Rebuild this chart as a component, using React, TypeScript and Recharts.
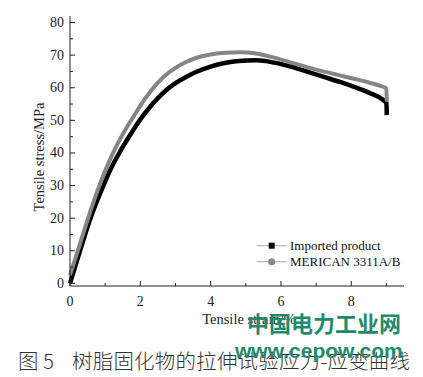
import React from 'react';
import { LineChart, Line, XAxis, YAxis, Legend } from 'recharts';

// Imported product (black)
const strainImported = [0, 0.3, 0.6, 0.95, 1.2, 1.47, 1.75, 2.0, 2.25, 2.5, 2.75, 3.0, 3.3, 3.6, 4.0, 4.4, 4.8, 5.3, 5.8, 6.2, 6.7, 7.2, 7.7, 8.1, 8.5, 8.9, 9.0, 9.01];
const stressImported = [0, 10.5, 20.5, 30, 36, 41.3, 46.2, 50.3, 53.8, 56.8, 59.4, 61.4, 63.3, 64.9, 66.5, 67.6, 68.2, 68.4, 67.7, 66.7, 65.1, 63.4, 61.7, 60.2, 58.5, 56.3, 55.3, 51.6];

// MERICAN 3311A/B (gray)
const strainMerican = [0, 0.25, 0.5, 0.8, 1.05, 1.33, 1.6, 1.8, 2.0, 2.3, 2.65, 3.0, 3.3, 3.6, 4.0, 4.4, 4.83, 5.3, 5.78, 6.2, 6.72, 7.2, 7.67, 8.1, 8.5, 8.9, 9.0, 9.01];
const stressMerican = [2.5, 11, 19.5, 29, 35.8, 42.3, 47.6, 51, 54.5, 59, 63.2, 66.1, 67.9, 69.2, 70.2, 70.7, 70.9, 70.5, 69.3, 68, 66.4, 65, 63.8, 62.7, 61.6, 60.3, 59.8, 55.7];

const xTicks = [0, 1, 2, 3, 4, 5, 6, 7, 8, 9];
const yTicks = [0, 5, 10, 15, 20, 25, 30, 35, 40, 45, 50, 55, 60, 65, 70, 75, 80];
const seriesNames = ['Imported product', 'MERICAN 3311A/B'];

const dataImported = strainImported.map((x, i) => ({ x, y: stressImported[i] }));
const dataMerican = strainMerican.map((x, i) => ({ x, y: stressMerican[i] }));

const SERIF = '"Liberation Serif", "Times New Roman", serif';
const INK = '#222';

const YTick = (props: any) => {
  const { x, y, payload } = props;
  const v = payload.value;
  const major = v % 10 === 0;
  return (
    <g>
      <line x1={x} x2={x + (major ? 5 : 3)} y1={y} y2={y} stroke={INK} strokeWidth={1} />
      {major && (
        <text x={x - 6} y={y} textAnchor="end" dominantBaseline="central" fontFamily={SERIF} fontSize={14} fill={INK}>
          {v}
        </text>
      )}
    </g>
  );
};

const XTick = (props: any) => {
  const { x, y, payload } = props;
  const v = payload.value;
  const major = v % 2 === 0;
  return (
    <g>
      <line x1={x} x2={x} y1={y} y2={y - (major ? 5 : 3)} stroke={INK} strokeWidth={1} />
      {major && (
        <text x={x} y={y + 20} textAnchor="middle" fontFamily={SERIF} fontSize={14} fill={INK}>
          {v}
        </text>
      )}
    </g>
  );
};

const YTitle = (props: any) => {
  const vb = props.viewBox || { x: 0, y: 16, width: 70, height: 270 };
  const cx = vb.x + 39;
  const cy = vb.y + vb.height / 2 + 6;
  return (
    <text x={cx} y={cy} transform={`rotate(-90 ${cx} ${cy})`} textAnchor="middle" dominantBaseline="central" fontFamily={SERIF} fontSize={14.5} fill={INK}>
      Tensile stress/MPa
    </text>
  );
};

const XTitle = (props: any) => {
  const vb = props.viewBox || { x: 70, y: 286, width: 334, height: 30 };
  const cx = vb.x + vb.width / 2 + 12;
  const cy = vb.y + 33;
  return (
    <text x={cx} y={cy} textAnchor="middle" dominantBaseline="central" fontFamily={SERIF} fontSize={14.5} fill={INK}>
      Tensile strain/%
    </text>
  );
};

const LegendContent = () => (
  <svg width={170} height={36}>
    {[0, 1].map((i) => {
      const cy = 9.7 + i * 16;
      return (
        <g key={i}>
          <line x1={6.7} x2={36.7} y1={cy} y2={cy} stroke="#aaa" strokeWidth={1} />
          {i === 0 ? (
            <rect x={21.7 - 3} y={cy - 3} width={6} height={6} fill="#000" />
          ) : (
            <circle cx={21.7} cy={cy} r={3.5} fill="#888" />
          )}
          <text x={40} y={cy} dominantBaseline="central" fontFamily={SERIF} fontSize={13} fill="#111">
            {seriesNames[i]}
          </text>
        </g>
      );
    })}
  </svg>
);

export default function App() {
  return (
    <div style={{ position: 'absolute', left: 0, top: 0, width: 423, height: 377, background: '#fff' }}>
      <LineChart width={423} height={377} margin={{ top: 16, right: 19, bottom: 61, left: 0 }}>
        <XAxis
          dataKey="x"
          type="number"
          domain={[0, 9.5]}
          ticks={xTicks}
          interval={0}
          tickSize={0}
          tickMargin={0}
          tick={<XTick />}
          tickLine={false}
          axisLine={{ stroke: INK, strokeWidth: 1 }}
          height={30}
          label={<XTitle />}
        />
        <XAxis xAxisId="top" orientation="top" type="number" domain={[0, 9.5]} tick={false} tickLine={false} height={0} axisLine={{ stroke: '#777', strokeWidth: 1 }} />
        <YAxis
          dataKey="y"
          type="number"
          domain={[-0.8, 82]}
          ticks={yTicks}
          interval={0}
          tickSize={0}
          tickMargin={0}
          tick={<YTick />}
          tickLine={false}
          axisLine={{ stroke: INK, strokeWidth: 1 }}
          width={70}
          label={<YTitle />}
        />
        <YAxis yAxisId="right" orientation="right" type="number" domain={[0, 1]} tick={false} tickLine={false} width={0} axisLine={{ stroke: '#777', strokeWidth: 1 }} />
        <Line data={dataImported} dataKey="y" name={seriesNames[0]} type="monotone" stroke="#000" strokeWidth={4.5} dot={false} isAnimationActive={false} strokeLinejoin="round" />
        <Line data={dataMerican} dataKey="y" name={seriesNames[1]} type="monotone" stroke="#858585" strokeWidth={4} dot={false} isAnimationActive={false} strokeLinejoin="round" />
        <Legend layout="vertical" align="center" verticalAlign="middle" content={<LegendContent />} wrapperStyle={{ left: 250, top: 236, width: 170, height: 36 }} />
      </LineChart>
      <div style={{ position: 'absolute', left: 18, top: 350, fontFamily: '"Noto Sans CJK SC", sans-serif', fontSize: 20.5, lineHeight: '20.5px', color: '#333', fontWeight: 300, whiteSpace: 'nowrap' }}>
        图 5
      </div>
      <div style={{ position: 'absolute', left: 72, top: 350, fontFamily: '"Noto Sans CJK SC", sans-serif', fontSize: 20.5, lineHeight: '20.5px', color: '#333', fontWeight: 300, letterSpacing: 0.2, whiteSpace: 'nowrap' }}>
        树脂固化物的拉伸试验应力-应变曲线
      </div>
      <div style={{ position: 'absolute', left: 247, top: 311, fontFamily: '"Noto Sans CJK SC", sans-serif', fontSize: 22, lineHeight: '22px', color: '#1f8a6c', fontWeight: 700, whiteSpace: 'nowrap' }}>
        中国电力工业网
      </div>
      <div style={{ position: 'absolute', left: 235, top: 340, fontFamily: '"Liberation Sans", Arial, sans-serif', fontSize: 21, lineHeight: '21px', color: '#1f8a6c', fontWeight: 700, whiteSpace: 'nowrap' }}>
        www.cepow.com
      </div>
    </div>
  );
}
